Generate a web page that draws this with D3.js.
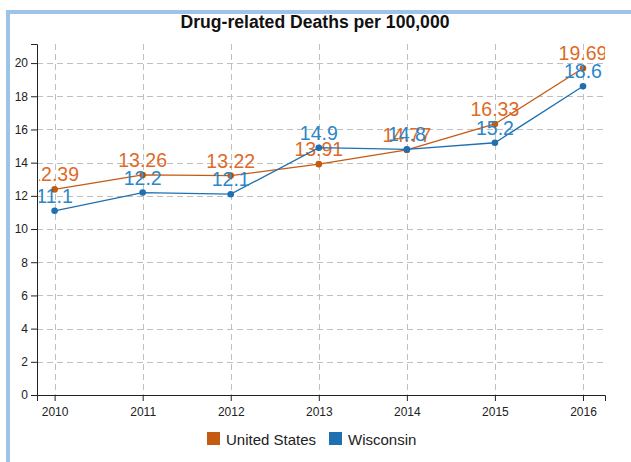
<!DOCTYPE html>
<html>
<head>
<meta charset="utf-8">
<script src="https://cdn.jsdelivr.net/npm/d3@7"></script>
<style>
  html, body { margin: 0; padding: 0; background: #fff; }
  svg { display: block; font-family: Arial, "Liberation Sans", sans-serif; }
</style>
</head>
<body>
<svg id="chart" width="631" height="462"></svg>
<script>
// Drug-related deaths per 100,000 people, by year
const years = [2010, 2011, 2012, 2013, 2014, 2015, 2016];
const unitedStates = [12.39, 13.26, 13.22, 13.91, 14.77, 16.33, 19.69];
const wisconsin = [11.1, 12.2, 12.1, 14.9, 14.8, 15.2, 18.6];
const seriesNames = ["United States", "Wisconsin"];
const seriesColors = ["#c55a11", "#1f70b1"];
const labelColors = ["#de6a28", "#2c86c8"];
const yTicks = [0, 2, 4, 6, 8, 10, 12, 14, 16, 18, 20];
const chartTitle = "Drug-related Deaths per 100,000";

const series = [
  { name: seriesNames[0], values: unitedStates, color: seriesColors[0], labelColor: labelColors[0] },
  { name: seriesNames[1], values: wisconsin, color: seriesColors[1], labelColor: labelColors[1] }
];

const W = 631, H = 462;
const plot = { left: 37, right: 605, top: 44, bottom: 395 };

const svg = d3.select("#chart");

// outer frame
svg.append("rect")
  .attr("x", 8).attr("y", 12)
  .attr("width", W + 40).attr("height", H + 40)
  .attr("fill", "#fff")
  .attr("stroke", "#9dc3e6")
  .attr("stroke-width", 4);

// title
svg.append("text")
  .attr("x", 315).attr("y", 28)
  .attr("text-anchor", "middle")
  .attr("font-size", 17.6)
  .attr("font-weight", "bold")
  .attr("fill", "#111")
  .text(chartTitle);

const x = d3.scaleLinear()
  .domain([years[0] - 0.2, years[years.length - 1] + 0.25])
  .range([plot.left, plot.right]);

const y = d3.scaleLinear()
  .domain([0, 21.15])
  .range([plot.bottom, plot.top]);

// grid
const grid = svg.append("g")
  .attr("stroke", "#bfbfbf")
  .attr("stroke-width", 1)
  .attr("stroke-dasharray", "6,4");

grid.selectAll("line.h")
  .data(yTicks.filter(d => d > 0))
  .join("line")
  .attr("class", "h")
  .attr("x1", plot.left).attr("x2", plot.right)
  .attr("y1", d => Math.round(y(d)) + 0.5)
  .attr("y2", d => Math.round(y(d)) + 0.5);

grid.selectAll("line.v")
  .data(years)
  .join("line")
  .attr("class", "v")
  .attr("y1", plot.top).attr("y2", plot.bottom)
  .attr("x1", d => Math.round(x(d)) + 0.5)
  .attr("x2", d => Math.round(x(d)) + 0.5);

// axes
const xAxis = svg.append("g")
  .attr("transform", `translate(0,${plot.bottom})`)
  .call(d3.axisBottom(x).tickValues(years).tickFormat(d3.format("d")));

const yAxis = svg.append("g")
  .attr("transform", `translate(${plot.left},0)`)
  .call(d3.axisLeft(y).tickValues(yTicks));

[xAxis, yAxis].forEach(a => {
  a.attr("font-family", "Arial, 'Liberation Sans', sans-serif")
   .attr("font-size", 12);
  a.selectAll("path, line").attr("stroke", "#222");
  a.selectAll("text").attr("fill", "#222");
});
xAxis.selectAll("text").attr("dy", "1em");

// clip data marks and value labels to the plot area
svg.append("clipPath").attr("id", "plotClip")
  .append("rect")
  .attr("x", plot.left + 2).attr("y", 0)
  .attr("width", plot.right - plot.left - 2)
  .attr("height", plot.bottom);

const area = svg.append("g").attr("clip-path", "url(#plotClip)");

const line = d3.line()
  .x((d, i) => x(years[i]))
  .y(d => y(d));

series.forEach(s => {
  const g = area.append("g");
  g.append("path")
    .datum(s.values)
    .attr("fill", "none")
    .attr("stroke", s.color)
    .attr("stroke-width", 1.3)
    .attr("d", line);

  g.selectAll("circle")
    .data(s.values)
    .join("circle")
    .attr("cx", (d, i) => x(years[i]))
    .attr("cy", d => y(d))
    .attr("r", 3.3)
    .attr("fill", s.color);

  g.selectAll("text")
    .data(s.values)
    .join("text")
    .attr("x", (d, i) => x(years[i]))
    .attr("y", d => y(d) - 8)
    .attr("text-anchor", "middle")
    .attr("font-size", 19.5)
    .attr("fill", s.labelColor)
    .text(d => d);
});

// legend
const legend = svg.append("g");
const legendX = [207, 329];
series.forEach((s, i) => {
  legend.append("rect")
    .attr("x", legendX[i]).attr("y", 432)
    .attr("width", 13).attr("height", 13)
    .attr("fill", s.color);
  legend.append("text")
    .attr("x", legendX[i] + 19).attr("y", 445)
    .attr("font-size", 15)
    .attr("fill", "#222")
    .text(s.name);
});
</script>
</body>
</html>
